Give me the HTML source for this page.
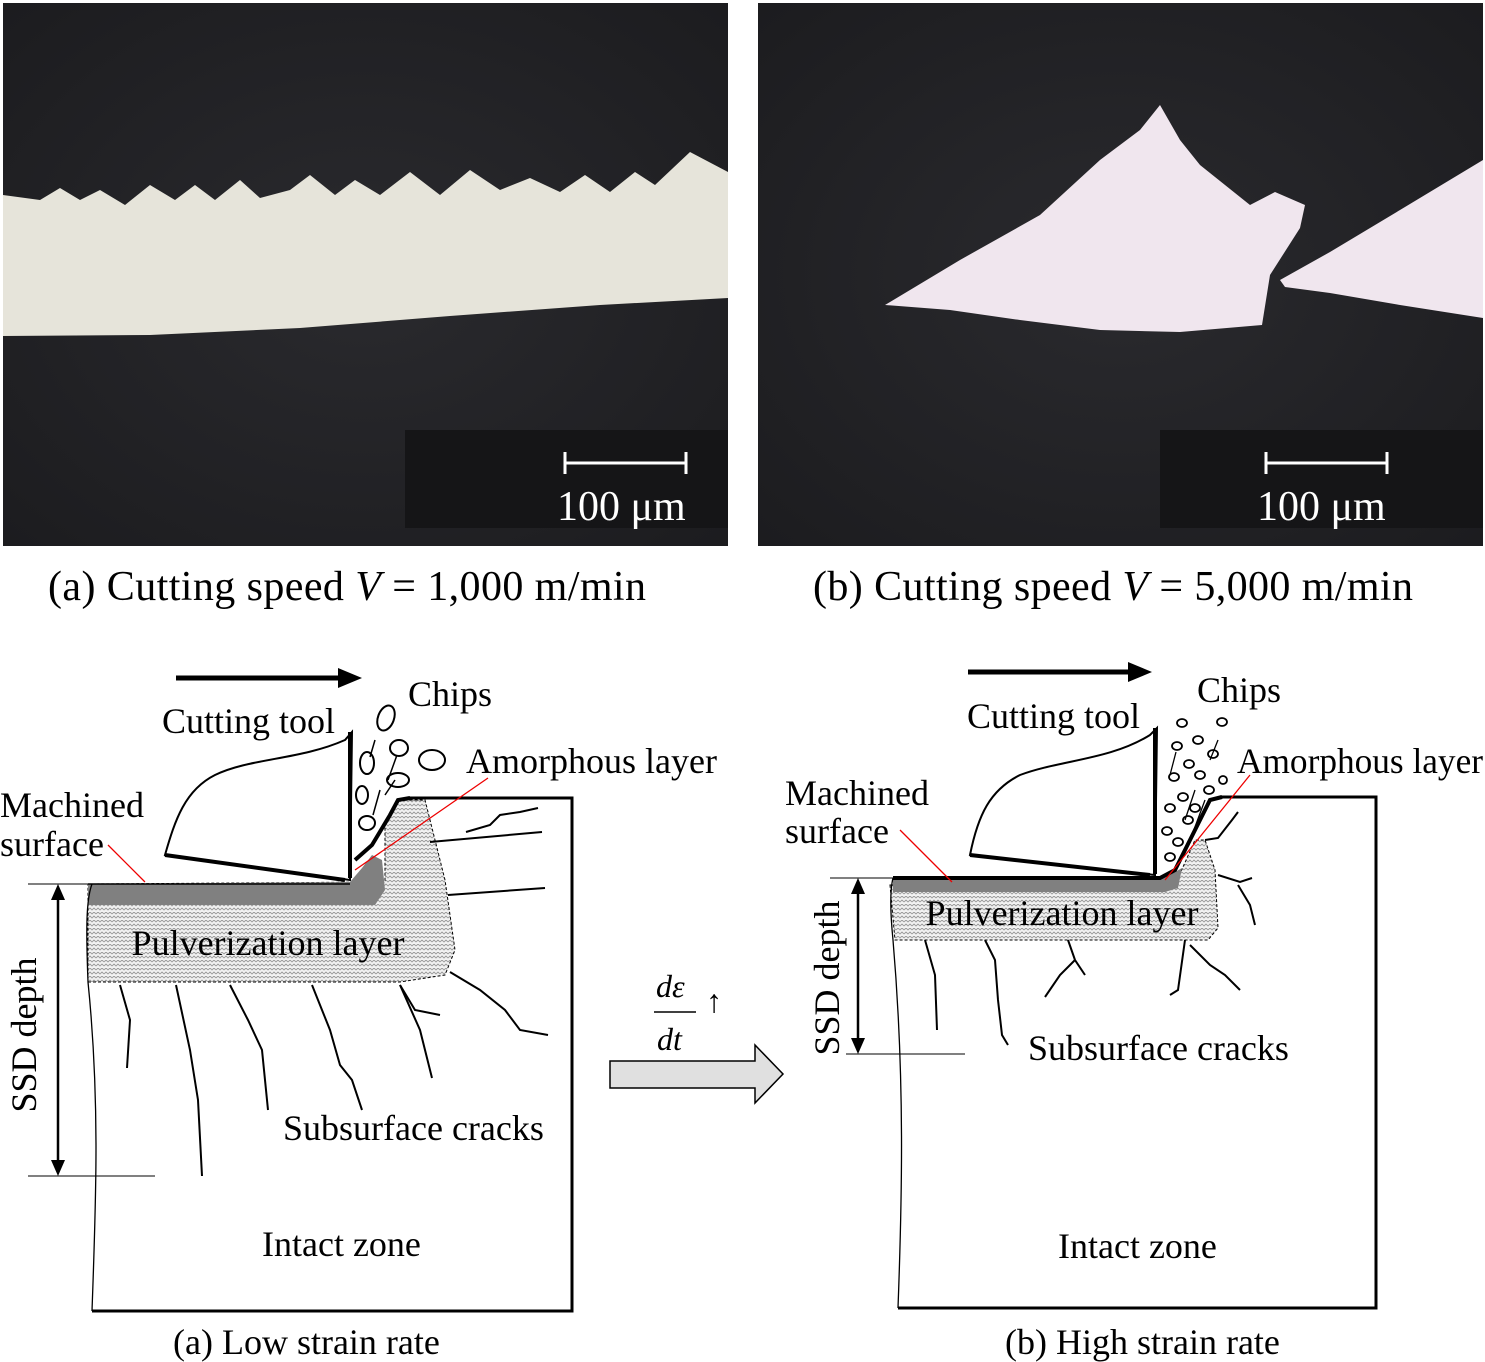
<!DOCTYPE html>
<html><head><meta charset="utf-8"><style>
html,body{margin:0;padding:0;background:#fff;}
svg{display:block;}
text{font-family:"Liberation Serif","DejaVu Serif",serif;fill:#000;}
</style></head><body>
<svg width="1485" height="1362" viewBox="0 0 1485 1362" xmlns="http://www.w3.org/2000/svg">
<defs>
<pattern id="pz" width="8" height="8" patternUnits="userSpaceOnUse">
<rect width="8" height="8" fill="#f2f2f2"/>
<path d="M0 2 L2 0 L4 2 L6 0 L8 2 M0 6 L2 4 L4 6 L6 4 L8 6" stroke="#9a9a9a" stroke-width="0.9" fill="none"/>
</pattern>
<radialGradient id="dk" cx="0.5" cy="0.5" r="0.7">
<stop offset="0" stop-color="#2a2a2e"/><stop offset="1" stop-color="#1c1c1f"/>
</radialGradient>
</defs>

<rect x="3" y="3" width="725" height="543" fill="url(#dk)"/>
<path d="M3 195 L40 200 L60 188 L80 200 L100 190 L125 205 L150 185 L175 200 L195 185 L215 200 L240 180 L260 198 L290 190 L310 175 L335 195 L355 180 L380 195 L410 172 L440 195 L470 170 L500 190 L530 178 L560 192 L585 175 L610 192 L635 172 L655 185 L690 152 L728 172 L728 298 L600 305 L450 316 L300 328 L150 335 L3 336 Z" fill="#e6e4da"/>
<rect x="405" y="430" width="323" height="98" fill="#151517"/>
<path d="M565 463 H686 M565 452 V474 M686 452 V474" stroke="#fff" stroke-width="3"/>
<text x="557" y="520" font-size="42" style="fill:#fff">100 μm</text>

<rect x="758" y="3" width="725" height="543" fill="url(#dk)"/>
<path d="M885 305 L960 260 L1040 215 L1100 160 L1140 130 L1160 105 L1180 140 L1200 165 L1225 185 L1250 205 L1275 192 L1305 205 L1300 228 L1270 275 L1262 325 L1180 332 L1100 330 L1020 320 L950 310 Z" fill="#f0e6ee"/>
<path d="M1280 280 L1330 252 L1400 210 L1483 160 L1483 318 L1400 305 L1330 293 L1285 287 Z" fill="#f0e6ee"/>
<rect x="1160" y="430" width="323" height="98" fill="#151517"/>
<path d="M1266 463 H1387 M1266 452 V474 M1387 452 V474" stroke="#fff" stroke-width="3"/>
<text x="1257" y="520" font-size="42" style="fill:#fff">100 μm</text>

<text x="48" y="600" font-size="42" textLength="598">(a) Cutting speed <tspan font-style="italic">V</tspan> = 1,000 m/min</text>
<text x="813" y="600" font-size="42" textLength="600">(b) Cutting speed <tspan font-style="italic">V</tspan> = 5,000 m/min</text>

<path d="M176 678 H345" stroke="#000" stroke-width="5"/>
<path d="M338 668 L362 678 L338 688 Z" fill="#000"/>
<path d="M88 982 L400 982 L445 975 L455 950 L445 880 L425 800 L400 800 L385 822 L385 882 L88 884 Z" fill="url(#pz)" stroke="#000" stroke-width="1" stroke-dasharray="3,2"/>
<path d="M88 884 L350 882 L362 868 L372 855 L382 860 L385 890 L375 905 L88 905 Z" fill="#808080"/>
<path d="M408 798 H572 V1311 H92" fill="none" stroke="#000" stroke-width="3"/>
<path d="M92 1311 C96 1200 100 1100 88 982 C86 930 86 900 92 884" fill="none" stroke="#000" stroke-width="1.3"/>
<path d="M355 860 L372 845 L390 815 L398 800 L410 798" fill="none" stroke="#000" stroke-width="4"/>
<path d="M88 884 H350" stroke="#000" stroke-width="1.5"/>
<path d="M352 732 L350 880 L165 855 C175 820 185 790 215 775 C250 758 300 760 345 740 Z" fill="#fff" stroke="#000" stroke-width="2"/>
<path d="M350 732 L350 878" stroke="#000" stroke-width="4"/>
<path d="M165 855 L345 880" stroke="#000" stroke-width="4"/>
<g fill="#fff" stroke="#000" stroke-width="2">
<ellipse cx="386" cy="718" rx="8" ry="13" transform="rotate(20 386 718)"/>
<ellipse cx="399" cy="748" rx="9" ry="8"/>
<ellipse cx="432" cy="760" rx="13" ry="10"/>
<ellipse cx="367" cy="763" rx="7" ry="11"/>
<ellipse cx="398" cy="780" rx="11" ry="7"/>
<ellipse cx="362" cy="795" rx="6" ry="9"/>
<ellipse cx="367" cy="823" rx="8" ry="7"/>
</g>
<path d="M375 740 L370 757 M380 790 L373 815 M385 795 L395 780 M397 755 L388 780" stroke="#000" stroke-width="1.5"/>
<g fill="none" stroke="#000" stroke-width="2">
<path d="M466 832 L490 825 L500 815 L520 812 L538 808"/>
<path d="M430 842 L542 832"/>
<path d="M448 895 L545 888"/>
<path d="M450 972 L480 990 L505 1010 L520 1030 L548 1035"/>
<path d="M400 985 L415 1010 L440 1015"/>
<path d="M400 985 L420 1030 L432 1078"/>
<path d="M312 985 L330 1030 L340 1065 L352 1080 L362 1110"/>
<path d="M230 985 L248 1020 L262 1050 L268 1110"/>
<path d="M176 985 L190 1050 L198 1100 L202 1176"/>
<path d="M120 985 L130 1020 L127 1068"/>
</g>
<path d="M28 884 H88 M28 1176 H155" stroke="#000" stroke-width="1"/>
<path d="M58 895 V1165" stroke="#000" stroke-width="2.5"/>
<path d="M51 900 L58 884 L65 900 Z M51 1160 L58 1176 L65 1160 Z" fill="#000"/>
<text transform="translate(36 1035) rotate(-90)" text-anchor="middle" font-size="36">SSD depth</text>
<path d="M108 845 L145 882 M488 778 L355 870" stroke="#e00" stroke-width="1.3"/>
<text x="162" y="733" font-size="36">Cutting tool</text>
<text x="408" y="706" font-size="36">Chips</text>
<text x="466" y="773" font-size="36">Amorphous layer</text>
<text x="0" y="817" font-size="36">Machined</text>
<text x="0" y="856" font-size="36">surface</text>
<text x="268" y="955" font-size="36" text-anchor="middle">Pulverization layer</text>
<text x="283" y="1140" font-size="36">Subsurface cracks</text>
<text x="262" y="1256" font-size="36">Intact zone</text>
<text x="173" y="1354" font-size="36">(a) Low strain rate</text>

<text x="656" y="997" font-size="32" font-style="italic">dε</text>
<text x="706" y="1012" font-size="32">↑</text>
<path d="M654 1012 H696" stroke="#000" stroke-width="1.5"/>
<text x="657" y="1050" font-size="32" font-style="italic">dt</text>
<path d="M610 1061 H755 V1045 L783 1074 L755 1103 V1088 H610 Z" fill="#e0e0e0" stroke="#000" stroke-width="1.5"/>

<path d="M968 672 H1135" stroke="#000" stroke-width="5"/>
<path d="M1128 662 L1152 672 L1128 682 Z" fill="#000"/>
<path d="M890 885 L1175 885 L1195 840 L1205 840 L1215 870 L1218 928 L1208 940 L895 940 Z" fill="url(#pz)" stroke="#000" stroke-width="1" stroke-dasharray="3,2"/>
<path d="M893 878 L1160 878 L1175 872 L1182 868 L1178 888 L1165 892 L893 892 Z" fill="#808080"/>
<path d="M1220 797 H1376 V1308 H898" fill="none" stroke="#000" stroke-width="3"/>
<path d="M898 1308 C902 1200 905 1080 893 940 C890 910 890 890 893 878" fill="none" stroke="#000" stroke-width="1.3"/>
<path d="M893 878 H1160 L1175 870 L1195 830 L1210 800 L1222 797" fill="none" stroke="#000" stroke-width="4"/>
<path d="M1157 728 L1155 875 L970 855 C978 815 990 790 1020 775 C1060 760 1110 760 1150 735 Z" fill="#fff" stroke="#000" stroke-width="2"/>
<path d="M1155 728 L1155 874" stroke="#000" stroke-width="4"/>
<path d="M970 855 L1150 875" stroke="#000" stroke-width="4"/>
<g fill="#fff" stroke="#000" stroke-width="1.8">
<ellipse cx="1182" cy="723" rx="5" ry="4"/><ellipse cx="1222" cy="722" rx="5" ry="4"/>
<ellipse cx="1198" cy="740" rx="5" ry="4"/><ellipse cx="1177" cy="746" rx="5" ry="4"/>
<ellipse cx="1213" cy="754" rx="5" ry="4"/><ellipse cx="1189" cy="764" rx="5" ry="4"/>
<ellipse cx="1174" cy="777" rx="5" ry="4"/><ellipse cx="1200" cy="775" rx="5" ry="4"/>
<ellipse cx="1223" cy="780" rx="4" ry="4"/><ellipse cx="1209" cy="790" rx="5" ry="4"/>
<ellipse cx="1183" cy="797" rx="5" ry="4"/><ellipse cx="1170" cy="808" rx="5" ry="4"/>
<ellipse cx="1195" cy="808" rx="5" ry="4"/><ellipse cx="1188" cy="820" rx="5" ry="4"/>
<ellipse cx="1167" cy="831" rx="5" ry="4"/><ellipse cx="1178" cy="842" rx="5" ry="4"/>
<ellipse cx="1170" cy="857" rx="5" ry="4"/>
</g>
<path d="M1176 752 L1170 775 M1218 740 L1210 760 M1195 790 L1185 820 M1205 800 L1192 835" stroke="#000" stroke-width="1.3"/>
<g fill="none" stroke="#000" stroke-width="2">
<path d="M1205 840 L1218 838 L1232 820 L1238 812"/>
<path d="M1218 875 L1240 882 L1252 878"/>
<path d="M1238 885 L1250 905 L1255 925"/>
<path d="M1185 940 L1178 990 L1170 995"/>
<path d="M1190 945 L1210 965 L1225 975 L1240 990"/>
<path d="M1068 940 L1075 960 L1085 975"/>
<path d="M1075 960 L1060 975 L1045 997"/>
<path d="M985 940 L995 960 L998 1000 L1002 1035 L1008 1045"/>
<path d="M925 940 L935 975 L937 1030"/>
</g>
<path d="M830 878 H893 M846 1054 H965" stroke="#000" stroke-width="1"/>
<path d="M858 890 V1042" stroke="#000" stroke-width="2.5"/>
<path d="M851 894 L858 878 L865 894 Z M851 1038 L858 1054 L865 1038 Z" fill="#000"/>
<text transform="translate(839 978) rotate(-90)" text-anchor="middle" font-size="36">SSD depth</text>
<path d="M900 830 L952 882 M1250 775 L1165 880" stroke="#e00" stroke-width="1.3"/>
<text x="967" y="728" font-size="36">Cutting tool</text>
<text x="1197" y="702" font-size="36">Chips</text>
<text x="1237" y="773" font-size="36" textLength="246" lengthAdjust="spacingAndGlyphs">Amorphous layer</text>
<text x="785" y="805" font-size="36">Machined</text>
<text x="785" y="843" font-size="36">surface</text>
<text x="1062" y="925" font-size="36" text-anchor="middle">Pulverization layer</text>
<text x="1028" y="1060" font-size="36">Subsurface cracks</text>
<text x="1058" y="1258" font-size="36">Intact zone</text>
<text x="1005" y="1354" font-size="36">(b) High strain rate</text>
</svg>
</body></html>
